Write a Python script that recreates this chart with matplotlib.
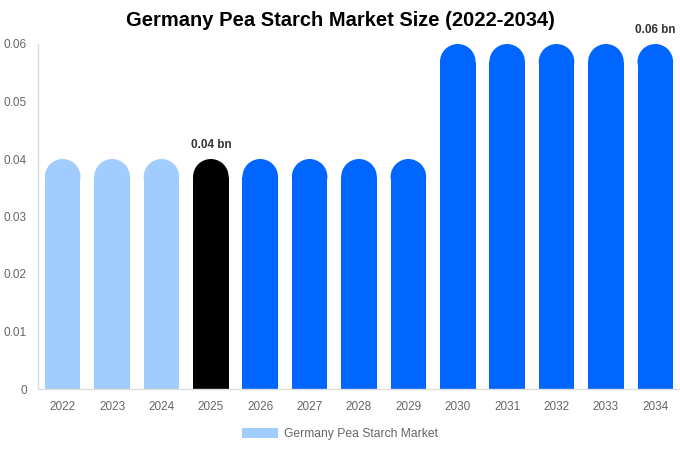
import matplotlib
matplotlib.use("Agg")
import matplotlib.pyplot as plt
from matplotlib.patches import Ellipse, Rectangle, Patch

plt.rcParams['font.family'] = ['Liberation Sans', 'DejaVu Sans']

years = ['2022', '2023', '2024', '2025', '2026', '2027', '2028', '2029',
         '2030', '2031', '2032', '2033', '2034']
values = [0.04, 0.04, 0.04, 0.04, 0.04, 0.04, 0.04, 0.04,
          0.06, 0.06, 0.06, 0.06, 0.06]
colors = ['#a0cdfd'] * 3 + ['#000000'] + ['#0066ff'] * 9
annotations = {3: '0.04 bn', 12: '0.06 bn'}

W, H = 680, 450
fig = plt.figure(figsize=(W / 100, H / 100), dpi=100)
left, right, top, bottom = 38, 680, 44, 389
ax = fig.add_axes([left / W, 1 - bottom / H, (right - left) / W, (bottom - top) / H])
ax.set_xlim(-0.5, len(years) - 0.5)
ax.set_ylim(0, 0.06)

bw = 0.72
px_per_y = (bottom - top) / 0.06
px_per_x = (right - left) / len(years)
r_px = bw * px_per_x / 2
r_y = r_px / px_per_y

for i, (v, c) in enumerate(zip(values, colors)):
    ax.add_patch(Rectangle((i - bw / 2, 0), bw, v - r_y, facecolor=c, edgecolor='none'))
    ax.add_patch(Ellipse((i, v - r_y), bw, 2 * r_y, facecolor=c, edgecolor='none'))
    if i in annotations:
        ax.annotate(annotations[i], (i, v), xytext=(0, 6), textcoords='offset points',
                    ha='center', va='bottom', fontsize=8.5, fontweight='bold', color='#333333')

ax.set_xticks(range(len(years)))
ax.set_xticklabels(years)
ax.set_yticks([0, 0.01, 0.02, 0.03, 0.04, 0.05, 0.06])
ax.set_yticklabels(['0', '0.01', '0.02', '0.03', '0.04', '0.05', '0.06'])
ax.tick_params(axis='both', length=0, labelsize=8.5, labelcolor='#666666')
ax.tick_params(axis='x', pad=9)
ax.tick_params(axis='y', pad=8)
for s in ['top', 'right']:
    ax.spines[s].set_visible(False)
for s in ['left', 'bottom']:
    ax.spines[s].set_color('#dddddd')
    ax.spines[s].set_linewidth(1)

fig.suptitle('Germany Pea Starch Market Size (2022-2034)', x=0.5, y=1 - 21 / H,
             va='center', fontsize=14.5, fontweight='bold', color='#000000')

leg = fig.legend(handles=[Patch(facecolor='#a0cdfd', edgecolor='none', label='Germany Pea Starch Market')],
                 loc='center', bbox_to_anchor=(0.5, 1 - 434 / H), frameon=False,
                 fontsize=8.7, handlelength=2.9, handleheight=0.9, handletextpad=0.5)
for t in leg.get_texts():
    t.set_color('#666666')

fig.savefig('out.png', dpi=100)
